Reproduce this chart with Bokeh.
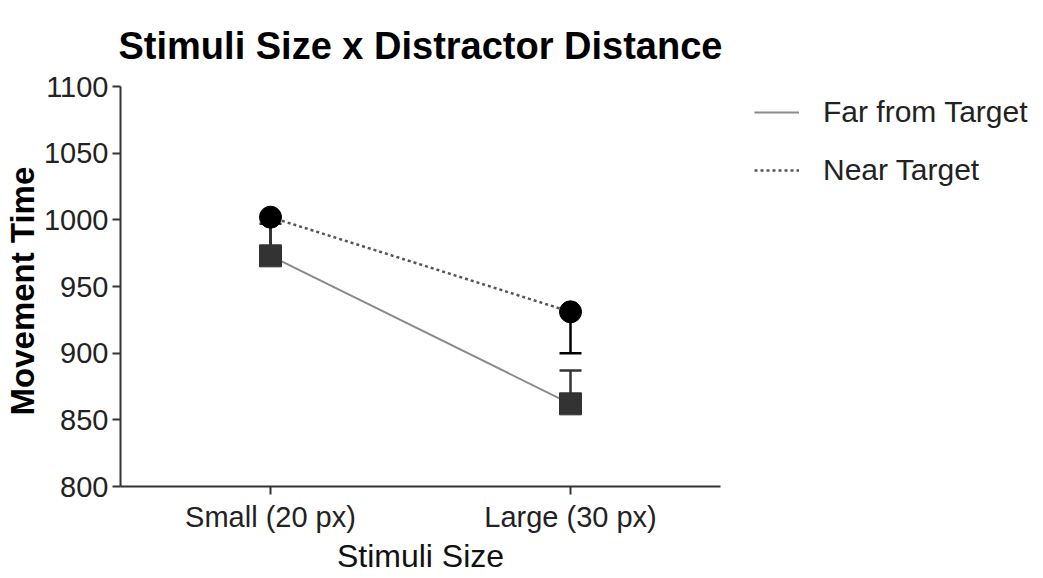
from bokeh.plotting import figure
from bokeh.models import (ColumnDataSource, FactorRange, Whisker, TeeHead,
                          Legend, LegendItem, FixedTicker)
from bokeh.embed import file_html
from bokeh.resources import INLINE

# Movement time by stimulus size for the two distractor conditions
sizes = ["Small (20 px)", "Large (30 px)"]
far_mean = [973, 862]
far_err = [24, 25]
near_mean = [1002, 931]
near_err = [24, 31]
y_ticks = [800, 850, 900, 950, 1000, 1050, 1100]

FONT = "Liberation Sans"

far_src = ColumnDataSource(dict(
    x=sizes, y=far_mean,
    lo=far_mean,
    hi=[m + e for m, e in zip(far_mean, far_err)],
))
near_src = ColumnDataSource(dict(
    x=sizes, y=near_mean,
    lo=[m - e for m, e in zip(near_mean, near_err)],
    hi=near_mean,
))

p = figure(
    frame_width=600, frame_height=400,
    x_range=FactorRange(*sizes), y_range=(800, 1100),
    min_border_left=120, min_border_right=323,
    min_border_top=86, min_border_bottom=92,
    output_backend="svg", toolbar_location=None,
    title="Stimuli Size x Distractor Distance",
)
p.outline_line_color = None
p.grid.visible = False
p.background_fill_color = "white"
p.border_fill_color = "white"

p.title.text_font = FONT
p.title.text_font_size = "38px"
p.title.text_font_style = "bold"
p.title.text_color = "black"
p.title.align = "center"
p.title.vertical_align = "top"
p.title.text_line_height = 0.6
p.title.standoff = 36

# connecting lines
far_line = p.line("x", "y", source=far_src, line_color="#8a8a8a", line_width=2)
near_line = p.line("x", "y", source=near_src, line_color="#555555",
                   line_width=2.5, line_dash="3 3")

# one-sided error bars (near downward, far upward)
near_w = Whisker(base="x", upper="hi", lower="lo", source=near_src,
                 dimension="height", line_color="black", line_width=2.5,
                 upper_head=None,
                 lower_head=TeeHead(size=22, line_color="black", line_width=2.5))
far_w = Whisker(base="x", upper="hi", lower="lo", source=far_src,
                dimension="height", line_color="#333333", line_width=2.5,
                lower_head=None,
                upper_head=TeeHead(size=22, line_color="#333333", line_width=2.5))
p.add_layout(near_w)
p.add_layout(far_w)

# markers
p.scatter("x", "y", source=far_src, marker="square", size=22,
          fill_color="#333333", line_color="#333333")
p.scatter("x", "y", source=near_src, marker="circle", size=22,
          fill_color="black", line_color="black")

# axes
for ax in (p.xaxis[0], p.yaxis[0]):
    ax.axis_line_color = "#333333"
    ax.axis_line_width = 2
    ax.major_tick_line_color = "#333333"
    ax.major_tick_line_width = 2
    ax.major_tick_out = 8
    ax.major_tick_in = 0
    ax.minor_tick_line_color = None
    ax.major_label_text_font = FONT
    ax.major_label_text_font_size = "29px"
    ax.major_label_text_color = "#222222"
    ax.axis_label_text_font = FONT

p.yaxis.ticker = FixedTicker(ticks=y_ticks)
p.yaxis.major_label_standoff = 4
p.yaxis.axis_label = "Movement  Time"
p.yaxis.axis_label_text_font_style = "bold"
p.yaxis.axis_label_text_font_size = "33px"
p.yaxis.axis_label_text_color = "black"
p.yaxis.axis_label_standoff = 0

p.xaxis.major_label_standoff = 6
p.xaxis.axis_label = "Stimuli Size"
p.xaxis.axis_label_text_font_style = "normal"
p.xaxis.axis_label_text_font_size = "32px"
p.xaxis.axis_label_text_color = "#111111"
p.xaxis.axis_label_standoff = 2

legend = Legend(
    items=[LegendItem(label="Far from Target", renderers=[far_line]),
           LegendItem(label="Near Target", renderers=[near_line])],
    location=(34, 299),
    label_text_font=FONT, label_text_font_size="30px",
    label_text_color="#222222",
    glyph_width=45, glyph_height=30, label_standoff=24,
    spacing=24, padding=0, margin=0,
    border_line_color=None, background_fill_alpha=0,
)
p.add_layout(legend, "right")

open("out.html", "w").write(file_html(p, INLINE))
